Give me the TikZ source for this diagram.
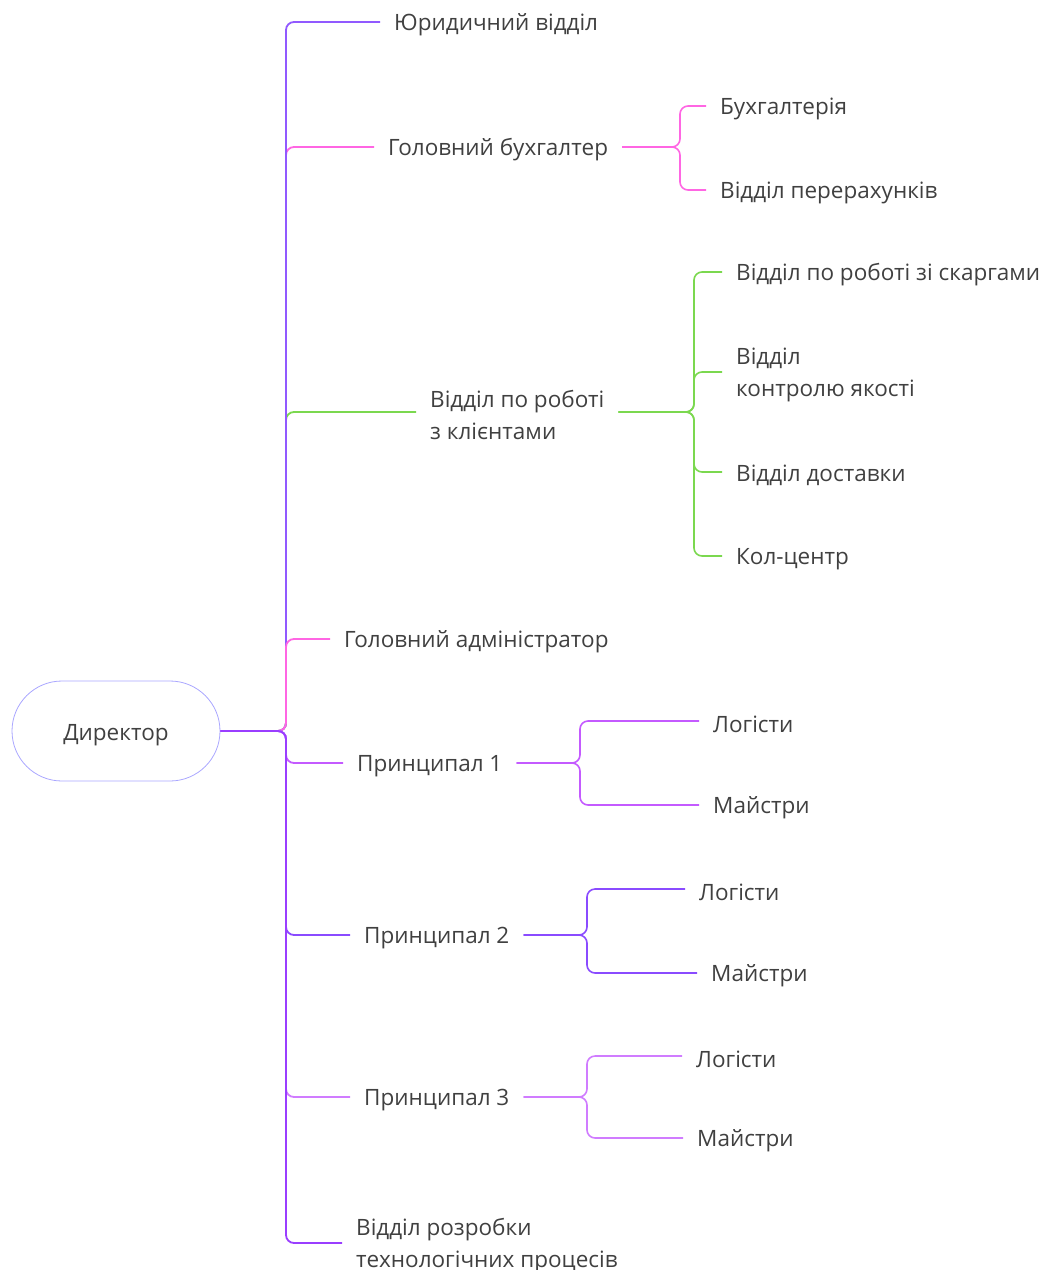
\documentclass[tikz,border=0pt]{standalone}
\usepackage{fontspec}
\setmainfont{Open Sans}
\definecolor{txt}{HTML}{404040}
\definecolor{cjur}{HTML}{9159FF}
\definecolor{cpink}{HTML}{FF66E3}
\definecolor{cgreen}{HTML}{7BD84F}
\definecolor{cp1}{HTML}{C45AFF}
\definecolor{cp2}{HTML}{8A4BFF}
\definecolor{cp3}{HTML}{D07CFF}
\definecolor{crozr}{HTML}{9A3EFF}
\definecolor{cdir}{HTML}{A9A6FF}
\begin{document}
\begin{tikzpicture}[x=1pt,y=-1pt,
  lbl/.style={anchor=west,inner xsep=14pt,inner ysep=0pt,text=txt,align=left,
    font=\fontsize{22.5}{32}\selectfont,yshift=-3pt},
  conn/.style={line width=1.8pt,rounded corners=8pt},
  stub/.style={line width=1.6pt,rounded corners=8pt}]
\useasboundingbox (0,0) rectangle (1045,1270);
% director
\node[draw=cdir,line width=0.8pt,rounded corners=50pt,minimum width=208pt,minimum height=100pt,
  text=txt,font=\fontsize{22.5}{32}\selectfont] (dir) at (116,731) {\raisebox{-9pt}[0pt][0pt]{Директор}};
\coordinate (J) at (286,731);
% top-level nodes
\node[lbl] (jur) at (380,22) {Юридичний відділ};
\node[lbl] (buh) at (374,147) {Головний бухгалтер};
\node[lbl] (kl) at (416,412) {Відділ по роботі\\з клієнтами};
\node[lbl] (adm) at (330,639) {Головний адміністратор};
\node[lbl] (p1) at (343,763) {Принципал 1};
\node[lbl] (p2) at (350,935) {Принципал 2};
\node[lbl] (p3) at (350,1097) {Принципал 3};
\node[lbl] (rozr) at (342,1243) {Відділ розробки\\технологічних процесів};
% second-level nodes
\node[lbl] (b1) at (706,106) {Бухгалтерія};
\node[lbl] (b2) at (706,190) {Відділ перерахунків};
\node[lbl] (k1) at (722,272) {Відділ по роботі зі скаргами};
\node[lbl] (k2) at (722,372) {Відділ\\контролю якості};
\node[lbl] (k3) at (722,472) {Відділ доставки};
\node[lbl] (k4) at (722,556) {Кол-центр};
\node[lbl] (p1a) at (699,721) {Логісти};
\node[lbl] (p1b) at (699,805) {Майстри};
\node[lbl] (p2a) at (685,889) {Логісти};
\node[lbl] (p2b) at (697,973) {Майстри};
\node[lbl] (p3a) at (682,1056) {Логісти};
\node[lbl] (p3b) at (683,1138) {Майстри};
% junctions
\coordinate (jb) at (680,147);
\coordinate (jk) at (694,412);
\coordinate (j1) at (580,763);
\coordinate (j2) at (587,935);
\coordinate (j3) at (587,1097);
\tikzset{w/.style={yshift=3pt}}
% main connectors
\draw[conn,cpink] (dir.east) -- (J) |- ([w]buh.west);
\draw[conn,cgreen] (dir.east) -- (J) |- ([w]kl.west);
\draw[conn,cjur] (dir.east) -- (J) |- ([w]jur.west);
\draw[conn,cpink] (dir.east) -- (J) |- ([w]adm.west);
\draw[conn,cp1] (dir.east) -- (J) |- ([w]p1.west);
\draw[conn,cp2] (dir.east) -- (J) |- ([w]p2.west);
\draw[conn,cp3] (dir.east) -- (J) |- ([w]p3.west);
\draw[conn,crozr] (dir.east) -- (J) |- ([w]rozr.west);
% sub connectors
\draw[stub,cpink] ([w]buh.east) -- (jb) |- ([w]b1.west);
\draw[stub,cpink] ([w]buh.east) -- (jb) |- ([w]b2.west);
\draw[stub,cgreen] ([w]kl.east) -- (jk) |- ([w]k1.west);
\draw[stub,cgreen] ([w]kl.east) -- (jk) |- ([w]k2.west);
\draw[stub,cgreen] ([w]kl.east) -- (jk) |- ([w]k3.west);
\draw[stub,cgreen] ([w]kl.east) -- (jk) |- ([w]k4.west);
\draw[stub,cp1] ([w]p1.east) -- (j1) |- ([w]p1a.west);
\draw[stub,cp1] ([w]p1.east) -- (j1) |- ([w]p1b.west);
\draw[stub,cp2] ([w]p2.east) -- (j2) |- ([w]p2a.west);
\draw[stub,cp2] ([w]p2.east) -- (j2) |- ([w]p2b.west);
\draw[stub,cp3] ([w]p3.east) -- (j3) |- ([w]p3a.west);
\draw[stub,cp3] ([w]p3.east) -- (j3) |- ([w]p3b.west);
\end{tikzpicture}
\end{document}
